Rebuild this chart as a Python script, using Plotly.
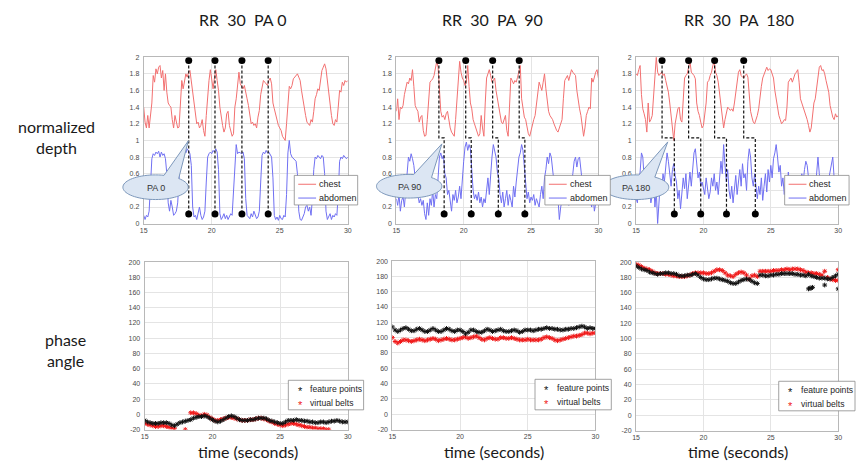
import math
import plotly.graph_objects as go

# ---------------- data ----------------
titles = ["RR \u00a030 \u00a0PA 0", "RR \u00a030 \u00a0PA \u00a090", "RR \u00a030 \u00a0PA \u00a0180"]
callout_labels = ["PA 0", "PA 90", "PA 180"]
depth_legend = ["chest", "abdomen"]
phase_legend = ["feature points", "virtual belts"]
x_ticks = [15, 20, 25, 30]
depth_ticks = [0, 0.2, 0.4, 0.6, 0.8, 1, 1.2, 1.4, 1.6, 1.8, 2]
depth_ticktext = ["0", "0.2", "", "0.6", "0.8", "1", "1.2", "1.4", "1.6", "1.8", "2"]  # 0.4 hidden under callout
phase_ticks = [-20, 0, 20, 40, 60, 80, 100, 120, 140, 160, 180, 200]

time_top = [round(15 + 0.1 * i, 1) for i in range(151)]
time_bot = [round(15 + 0.2 * i, 1) for i in range(76)]

chest_pa0 = [1.40,1.22,1.15,1.30,1.15,1.32,1.45,1.78,1.70,1.86, 1.80,1.88,1.90,1.75,1.84,1.60,1.80,1.58,1.45,1.42,
             1.40,1.25,1.15,1.30,1.22,1.15,1.16,1.50,1.72,1.62, 1.74,1.80,1.76,1.82,1.84,1.70,1.55,1.45,1.30,1.20,
             1.22,1.15,1.18,1.25,1.12,1.05,1.30,1.55,1.72,1.85, 1.70,1.62,1.75,1.85,1.72,1.60,1.40,1.25,1.18,1.10,
             1.15,1.32,1.35,1.18,1.12,1.05,1.08,1.40,1.50,1.65, 1.82,1.68,1.65,1.62,1.66,1.55,1.50,1.42,1.30,1.20,
             1.22,1.18,1.20,1.15,1.28,1.36,1.55,1.62,1.72,1.70, 1.68,1.66,1.72,1.75,1.68,1.45,1.38,1.30,1.22,1.18,
             1.15,1.12,1.05,1.02,1.00,1.20,1.40,1.65,1.62,1.66, 1.74,1.76,1.78,1.80,1.76,1.72,1.60,1.48,1.40,1.30,
             1.22,1.20,1.18,1.25,1.22,1.35,1.50,1.55,1.62,1.60, 1.75,1.84,1.88,1.92,1.86,1.70,1.55,1.40,1.30,1.20,
             1.18,1.25,1.22,1.40,1.60,1.58,1.70,1.66,1.72,1.70, 1.72]
abdomen_pa0 = [0.10,0.05,0.10,0.08,0.15,0.45,0.78,0.84,0.82,0.86, 0.84,0.87,0.80,0.86,0.82,0.84,0.78,0.60,0.25,0.15,
               0.28,0.20,0.10,0.12,0.15,0.25,0.55,0.82,0.86,0.80, 0.88,0.85,0.90,0.86,0.84,0.70,0.20,0.08,0.10,0.05,
               0.12,0.20,0.10,0.05,0.08,0.15,0.50,0.80,0.84,0.86, 0.84,0.88,0.86,0.90,0.86,0.65,0.12,0.05,0.08,0.12,
               0.06,0.10,0.05,0.08,0.12,0.10,0.40,0.80,0.95,0.84, 0.86,0.85,0.84,0.86,0.78,0.30,0.10,0.08,0.06,0.12,
               0.08,0.15,0.10,0.06,0.08,0.15,0.50,0.82,0.86,0.84, 0.88,0.85,0.86,0.82,0.80,0.55,0.10,0.05,0.08,0.04,
               0.10,0.06,0.05,0.10,0.08,0.35,0.85,1.00,0.84,0.80, 0.78,0.76,0.75,0.60,0.15,0.05,0.04,0.08,0.12,0.20,
               0.22,0.15,0.20,0.10,0.30,0.65,0.80,0.78,0.82,0.80, 0.78,0.82,0.80,0.60,0.15,0.05,0.08,0.12,0.05,0.10,
               0.08,0.12,0.10,0.35,0.75,0.80,0.78,0.82,0.80,0.78, 0.80]

chest_pa90 = [1.35,1.50,1.25,1.40,1.38,1.42,1.55,1.62,1.70,1.68, 1.75,1.72,1.85,1.65,1.42,1.38,1.35,1.22,1.28,1.30,
              1.12,1.05,1.06,1.25,1.55,1.70,1.72,1.74,1.78,1.85, 1.95,1.88,1.60,1.35,1.28,1.30,1.25,1.32,1.35,1.22,
              1.15,1.10,1.08,1.05,1.25,1.50,1.62,1.95,1.82,1.75, 1.72,1.66,1.70,1.90,1.65,1.45,1.38,1.25,1.20,1.15,
              1.12,1.05,1.08,1.30,1.15,1.05,1.45,1.75,1.80,1.85, 1.78,1.70,1.72,1.75,1.60,1.50,1.38,1.30,1.22,1.20,
              1.25,1.30,1.12,1.05,1.40,1.75,1.72,1.68,1.72,1.70, 1.76,1.82,1.90,1.50,1.35,1.28,1.25,1.15,1.08,1.05,
              1.12,1.20,1.25,1.30,1.45,1.62,1.70,1.65,1.60,1.70, 1.80,1.62,1.45,1.35,1.30,1.28,1.25,1.20,1.15,1.12,
              1.10,1.15,1.22,1.25,1.50,1.72,1.75,1.78,1.72,1.80, 1.85,1.82,1.80,1.78,1.60,1.45,1.38,1.30,1.20,1.05,
              1.15,1.30,1.35,1.40,1.38,1.75,1.70,1.78,1.82,1.85, 1.75]
abdomen_pa90 = [0.30,0.22,0.35,0.15,0.28,0.32,0.20,0.40,0.55,0.80, 0.75,0.84,0.78,0.70,0.55,0.60,0.35,0.25,0.30,0.22,
                0.28,0.12,0.05,0.25,0.10,0.30,0.22,0.40,0.20,0.35, 0.30,0.55,0.80,0.85,0.78,0.82,0.60,0.55,0.35,0.40,
                0.30,0.15,0.35,0.28,0.40,0.25,0.32,0.45,0.30,0.60, 0.75,0.92,0.98,0.88,0.95,0.90,0.60,0.40,0.30,0.35,
                0.28,0.38,0.25,0.32,0.20,0.30,0.25,0.40,0.55,0.35, 0.60,0.80,0.95,0.85,0.80,0.62,0.55,0.35,0.25,0.38,
                0.20,0.30,0.40,0.22,0.35,0.28,0.20,0.45,0.32,0.50, 0.65,0.80,0.85,0.95,0.88,0.70,0.50,0.30,0.38,0.25,
                0.32,0.28,0.35,0.22,0.30,0.25,0.20,0.35,0.45,0.30, 0.55,0.65,0.80,0.72,0.85,0.80,0.60,0.50,0.35,0.25,
                0.30,0.05,0.20,0.28,0.35,0.25,0.40,0.30,0.22,0.35, 0.45,0.60,0.75,0.80,0.68,0.78,0.80,0.62,0.50,0.35,
                0.30,0.40,0.25,0.32,0.28,0.20,0.35,0.15,0.25,0.30, 0.28]

chest_pa180 = [1.80,1.78,1.85,1.90,1.55,1.38,1.32,1.25,1.10,1.45, 1.22,1.25,1.30,1.55,1.70,2.00,1.82,1.78,1.80,1.82,
               1.78,1.80,1.72,1.65,1.58,1.45,1.30,1.15,1.00,1.20, 1.30,1.38,1.40,1.25,1.22,1.55,1.75,1.78,1.80,1.88,
               1.95,1.82,1.80,1.78,1.74,1.45,1.35,1.30,1.22,1.15, 1.18,1.30,1.45,1.70,1.72,1.78,1.82,1.90,1.95,1.82,
               1.78,1.70,1.55,1.40,1.28,1.15,1.25,1.35,1.40,1.38, 1.36,1.38,1.35,1.45,1.60,1.72,1.82,1.85,1.78,1.76,
               1.75,1.78,1.80,1.76,1.55,1.35,1.28,1.22,1.20,1.25, 1.30,1.38,1.55,1.65,1.75,1.80,1.85,1.88,1.84,1.86,
               1.85,1.80,1.75,1.60,1.48,1.38,1.30,1.25,1.20,1.22, 1.25,1.24,1.40,1.70,1.72,1.75,1.70,1.76,1.80,1.82,
               1.85,1.70,1.50,1.45,1.40,1.35,1.32,1.25,1.18,1.10, 1.15,1.30,1.45,1.50,1.65,1.80,1.88,1.90,1.84,1.85,
               1.80,1.72,1.65,1.58,1.42,1.35,1.28,1.25,1.32,1.28, 1.30]
abdomen_pa180 = [0.30,0.25,0.50,0.62,0.85,0.80,0.55,0.65,0.40,0.30, 0.45,0.25,0.35,0.55,0.20,0.40,0.00,0.30,0.50,0.40,
                 0.60,0.50,0.70,0.85,0.75,0.60,0.45,0.65,0.72,0.58, 0.50,0.30,0.40,0.18,0.35,0.55,0.42,0.60,0.30,0.50,
                 0.62,0.45,0.70,0.85,0.90,0.75,0.55,0.62,0.45,0.50, 0.40,0.35,0.55,0.42,0.30,0.38,0.55,0.45,0.60,0.40,
                 0.50,0.35,0.55,0.75,0.60,0.95,0.70,0.50,0.65,0.40, 0.30,0.45,0.25,0.40,0.58,0.35,0.50,0.65,0.45,0.72,
                 0.55,0.60,0.40,0.75,0.90,0.80,0.55,0.45,0.60,0.40, 0.30,0.45,0.35,0.55,0.28,0.45,0.60,0.38,0.65,0.50,
                 0.70,0.55,0.78,0.85,0.95,0.80,0.62,0.70,0.45,0.55, 0.35,0.50,0.40,0.62,0.48,0.30,0.55,0.40,0.25,0.45,
                 0.35,0.55,0.42,0.60,0.50,0.65,0.75,0.70,0.50,0.40, 0.30,0.45,0.55,0.40,0.65,0.80,0.60,0.45,0.35,0.50,
                 0.40,0.30,0.45,0.55,0.65,0.70,0.80,0.55,0.40,0.50, 0.45]

# marker times of the dashed guides (chest peak -> abdomen reference)
guide_top_pa0 = [18.31, 20.24, 22.22, 24.15]
guide_bot_pa0 = [18.31, 20.24, 22.22, 24.15]
guide_top_pa90 = [18.16, 20.15, 22.15, 24.12]
guide_bot_pa90 = [18.55, 20.56, 22.57, 24.54]
guide_top_pa180 = [16.93, 18.90, 20.83, 22.99]
guide_bot_pa180 = [17.84, 19.80, 21.71, 23.85]
guide_levels = [1.96, 1.03, 0.115]

feature_pa0 = [-8,-10,-11,-12,-12, -12,-11,-11,-11,-12, -14,-15,-13,-11,-10, -9,-8,-7,-5,-4,
               -3,-3,-2,-3,-5, -7,-9,-10,-9,-7, -5,-3,-2,-3,-5, -7,-8,-8,-8,-7,
               -7,-6,-5,-5,-5, -6,-8,-9,-10,-11, -12,-12,-10,-8,-8, -8,-7,-8,-8,-9,
               -9,-10,-10,-11,-11, -10,-10,-11,-10,-9, -9,-8,-9,-10,-10, -10]
virtual_pa0 = [-12,-13,-14,-15,-16, -16,-15,-15,-16,-17, -18,-19,None,None,None, -20,None,2,2,1,
               -1,-2,0,-1,-4, -6,-8,-8,-7,-6, -5,-4,-4,-5,-6, -7,-8,-8,-8,-7,
               -7,-6,-5,-5,-6, -7,-9,-10,-12,-13, -14,-15,-14,-13,-12, -12,-13,-14,-15,-16,
               -17,-17,-18,-18,-19, -19,-19,-20,-20,None, None,None,None,None,None, None]

feature_pa90 = [114,110,108,110,112, 113,111,109,109,111, 112,110,108,108,110, 112,110,108,108,110,
                112,111,109,108,110, 110,108,105,107,110, 110,108,107,107,109, 111,110,108,109,110,
                111,109,108,108,109, 110,109,107,108,110, 110,110,109,110,111, 111,112,113,112,112,
                111,111,110,110,111, 111,112,112,113,114, 115,114,112,113,112, 112]
virtual_pa90 = [100,95,93,95,97, 97,96,95,96,97, 98,97,96,97,98, 99,98,96,97,98,
                99,98,97,97,98, 99,100,101,99,100, 101,102,100,98,97, 99,100,99,98,98,
                100,100,99,99,100, 99,98,97,97,97, 98,97,97,97,97, 98,100,101,100,99,
                97,96,97,98,99, 100,101,102,102,103, 104,106,106,105,106, 106]

feature_pa180 = [195,193,191,190,189, 187,186,185,184,185, 185,186,186,185,185, 184,182,182,182,183,
                 183,184,185,183,180, 178,177,177,178,179, 179,178,177,176,175, 173,172,172,174,176,
                 177,178,177,175,173, 172,183,183,182,182, 183,183,184,184,185, 185,185,185,185,184,
                 184,183,183,182,184, 182,181,180,179,179, 179,178,178,180,182, 184]
virtual_pa180 = [197,196,194,192,191, 190,188,186,185,185, 185,184,184,183,182, 182,181,181,181,182,
                 183,185,186,186,186, 186,185,185,186,188, 190,190,189,186,183, 182,181,184,186,187,
                 186,183,178,182,183, 181,188,188,188,188, 188,189,189,189,190, 190,191,190,191,191,
                 191,190,189,187,186, 186,185,185,184,183, 188,180,178,177,176, 176]
feature_pa180_extra_t = [27.8, 27.9, 28.0, 28.1, 29.0, 30.0]
feature_pa180_extra_v = [165, 166, 166, 167, 170, 165]
virtual_pa180_extra_t = [30.0]
virtual_pa180_extra_v = [190]

# ---------------- layout helpers ----------------
W, H = 860, 468
def px(x):
    return x / W
def py(y):
    return 1 - y / H

CHEST = "#f27070"
ABD = "#7070f2"
RED = "#f01818"
BLACK = "#111111"
GRID = "#e4e4e4"
AXL = "#b8b8b8"
TICKF = dict(family="Liberation Sans, Arial, sans-serif", size=7, color="#4a4a4a")
BIGF = dict(family="Lato, Open Sans, sans-serif", size=16, color="#1a1a1a")
LEGF = dict(family="Liberation Sans, Arial, sans-serif", size=9, color="#262626")
LEGF2 = dict(family="Liberation Sans, Arial, sans-serif", size=8.6, color="#262626")

top_boxes = [(141, 54, 347, 223), (396, 54, 600, 223), (638, 54, 842, 223)]
bot_boxes = [(142, 262, 347, 432), (392, 261, 597, 432), (638, 262, 842, 433)]

fig = go.Figure()
layout = dict(width=W, height=H, margin=dict(l=0, r=0, t=0, b=0),
              paper_bgcolor="white", plot_bgcolor="white", showlegend=False)

def add_axes(idx, box, yrange, yvals, ytext):
    x0, y0, x1, y1 = box
    layout[f"xaxis{idx}"] = dict(domain=[px(x0), px(x1)], anchor=f"y{idx}", range=[15, 30],
                                 tickvals=x_ticks, showgrid=True, gridcolor=GRID, gridwidth=1,
                                 showline=True, linecolor=AXL, linewidth=1, mirror=True,
                                 ticks="", tickfont=TICKF, zeroline=False, ticklabelstandoff=0)
    layout[f"yaxis{idx}"] = dict(domain=[py(y1), py(y0)], anchor=f"x{idx}", range=yrange,
                                 tickvals=yvals, ticktext=ytext, showgrid=True, gridcolor=GRID, gridwidth=1,
                                 showline=True, linecolor=AXL, linewidth=1, mirror=True,
                                 ticks="", tickfont=TICKF, zeroline=False, ticklabelstandoff=2)

top_sets = [(chest_pa0, abdomen_pa0, guide_top_pa0, guide_bot_pa0),
            (chest_pa90, abdomen_pa90, guide_top_pa90, guide_bot_pa90),
            (chest_pa180, abdomen_pa180, guide_top_pa180, guide_bot_pa180)]

for k, (chest, abd, gtop, gbot) in enumerate(top_sets):
    idx = k + 1
    add_axes(idx, top_boxes[k], [0, 2], depth_ticks, depth_ticktext)
    xa, ya = f"x{idx}", f"y{idx}"
    fig.add_trace(go.Scatter(x=time_top, y=chest, mode="lines", line=dict(color=CHEST, width=1),
                             name=depth_legend[0], xaxis=xa, yaxis=ya))
    fig.add_trace(go.Scatter(x=time_top, y=abd, mode="lines", line=dict(color=ABD, width=1),
                             name=depth_legend[1], xaxis=xa, yaxis=ya))
    gx, gy = [], []
    for tt, tb in zip(gtop, gbot):
        gx += [tt, tt, tb, tb, None]
        gy += [guide_levels[0], guide_levels[1], guide_levels[1], guide_levels[2], None]
    fig.add_trace(go.Scatter(x=gx, y=gy, mode="lines",
                             line=dict(color=BLACK, width=1.2, dash="3px,2px"),
                             xaxis=xa, yaxis=ya, hoverinfo="skip"))
    fig.add_trace(go.Scatter(x=gtop + gbot, y=[guide_levels[0]] * len(gtop) + [guide_levels[2]] * len(gbot),
                             mode="markers", marker=dict(color="black", size=7),
                             xaxis=xa, yaxis=ya, hoverinfo="skip"))

bot_sets = [(feature_pa0, virtual_pa0, [], [], [], []),
            (feature_pa90, virtual_pa90, [], [], [], []),
            (feature_pa180, virtual_pa180, feature_pa180_extra_t, feature_pa180_extra_v,
             virtual_pa180_extra_t, virtual_pa180_extra_v)]

for k, (fp, vb, fet, fev, vet, vev) in enumerate(bot_sets):
    idx = k + 4
    add_axes(idx, bot_boxes[k], [-20, 200], phase_ticks, [str(v) for v in phase_ticks])
    xa, ya = f"x{idx}", f"y{idx}"
    fig.add_trace(go.Scatter(x=time_bot + vet, y=vb + vev, mode="markers", name=phase_legend[1],
                             marker=dict(symbol="asterisk-open", size=4, color=RED,
                                         line=dict(color=RED, width=1)),
                             xaxis=xa, yaxis=ya))
    fig.add_trace(go.Scatter(x=time_bot + fet, y=fp + fev, mode="markers", name=phase_legend[0],
                             marker=dict(symbol="asterisk-open", size=4, color=BLACK,
                                         line=dict(color=BLACK, width=1)),
                             xaxis=xa, yaxis=ya))

shapes = []
annotations = []

# column titles
for t, cx in zip(titles, [241, 493, 742]):
    annotations.append(dict(text=t, x=px(cx), y=py(16), xref="paper", yref="paper",
                            showarrow=False, font=BIGF, xanchor="center", yanchor="middle"))
# row labels
annotations.append(dict(text="normalized<br>depth", x=px(53), y=py(135), xref="paper", yref="paper",
                        showarrow=False, font=BIGF, xanchor="center", yanchor="middle"))
annotations.append(dict(text="phase<br>angle", x=px(62), y=py(351), xref="paper", yref="paper",
                        showarrow=False, font=BIGF, xanchor="center", yanchor="middle"))
for cx in [246, 495, 741]:
    annotations.append(dict(text="time (seconds)", x=px(cx), y=py(454), xref="paper", yref="paper",
                            showarrow=False, font=BIGF, xanchor="center", yanchor="middle"))

# callouts (ellipse + pointer)
callouts = [(153, 186, 33, 12.5, (186, 139), 45, 75),
            (409, 185, 33, 12.0, (442, 142), 50, 82),
            (638, 186, 33, 12.5, (670, 140), 55, 85)]
for (cx, cy, rx, ry, tip, a1, a2), lab in zip(callouts, callout_labels):
    pts = []
    a = a2
    while a <= a1 + 360 + 1e-9:
        r = math.radians(a)
        pts.append((cx + rx * math.cos(r), cy - ry * math.sin(r)))
        a += 5
    pts.append(tip)
    path = "M " + " L ".join(f"{px(x):.5f},{py(y):.5f}" for x, y in pts) + " Z"
    shapes.append(dict(type="path", path=path, xref="paper", yref="paper",
                       fillcolor="#dce6f3", line=dict(color="#7d98bb", width=1), layer="above"))
    annotations.append(dict(text=lab, x=px(cx), y=py(cy + 1), xref="paper", yref="paper",
                            showarrow=False, font=dict(family="Liberation Sans, Arial", size=9, color="#333333"),
                            xanchor="center", yanchor="middle"))

# manual legends
top_leg = [(293, 174, 357, 204), (546, 174, 612, 204), (788, 174, 853, 204)]
bot_leg = [(287, 382, 363, 412), (536, 381, 613, 412), (782, 383, 859, 413)]
for (x0, y0, x1, y1) in top_leg:
    shapes.append(dict(type="rect", x0=px(x0), x1=px(x1), y0=py(y1), y1=py(y0), xref="paper", yref="paper",
                       fillcolor="white", line=dict(color="#8a8a8a", width=0.8), layer="above"))
    for j, (lab, col) in enumerate(zip(depth_legend, [CHEST, ABD])):
        yy = y0 + 9 + 14 * j
        shapes.append(dict(type="line", x0=px(x0 + 4), x1=px(x0 + 22), y0=py(yy), y1=py(yy),
                           xref="paper", yref="paper", line=dict(color=col, width=1), layer="above"))
        annotations.append(dict(text=lab, x=px(x0 + 23), y=py(yy), xref="paper", yref="paper",
                                showarrow=False, font=LEGF, xanchor="left", yanchor="middle"))
for (x0, y0, x1, y1) in bot_leg:
    shapes.append(dict(type="rect", x0=px(x0), x1=px(x1), y0=py(y1), y1=py(y0), xref="paper", yref="paper",
                       fillcolor="white", line=dict(color="#8a8a8a", width=0.8), layer="above"))
    for j, (lab, col) in enumerate(zip(phase_legend, [BLACK, RED])):
        yy = y0 + 9 + 14 * j
        annotations.append(dict(text="*", x=px(x0 + 12), y=py(yy + 2), xref="paper", yref="paper",
                                showarrow=False, font=dict(family="Liberation Sans", size=11, color=col),
                                xanchor="center", yanchor="middle"))
        annotations.append(dict(text=lab, x=px(x0 + 20), y=py(yy), xref="paper", yref="paper",
                                showarrow=False, font=LEGF2, xanchor="left", yanchor="middle"))

layout["shapes"] = shapes
layout["annotations"] = annotations
fig.update_layout(**layout)
fig.write_html("out.html", config={"displayModeBar": False},
               post_script="document.body.style.margin='0';document.body.style.overflow='hidden';")
